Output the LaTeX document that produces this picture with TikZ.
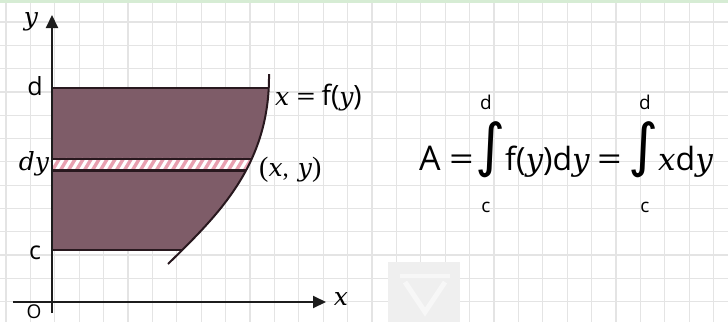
\documentclass[tikz,border=0pt]{standalone}
\usepackage{fontspec}
\usepackage{graphicx}
\setmainfont{Liberation Serif}
\newfontfamily\sansf{Open Sans}
\newfontfamily\djv{DejaVu Sans}
\newfontfamily\itf{DejaVu Serif}
\usetikzlibrary{arrows.meta}
\definecolor{regionfill}{RGB}{126,92,104}
\definecolor{gridc}{RGB}{228,228,228}
\definecolor{edgec}{RGB}{40,24,30}
\definecolor{stripec}{RGB}{232,160,176}
\definecolor{axisc}{RGB}{28,28,28}
\definecolor{topgreen}{RGB}{214,236,212}
\definecolor{wmark}{RGB}{239,239,239}
\definecolor{wmarklogo}{RGB}{247,247,247}
\tikzset{
  gridline/.style={gridc, line width=1.2pt},
  axisline/.style={axisc, line width=2pt, -{Triangle[length=13pt,width=12pt]}},
  edgeline/.style={edgec, line width=2pt},
  itlabel/.style={font=\fontsize{25}{25}\selectfont\itf\itshape, inner sep=0pt},
  sflabel/.style={font=\fontsize{25}{25}\selectfont\sansf, inner sep=0pt},
  limlabel/.style={font=\fontsize{19}{19}\selectfont\sansf, inner sep=0pt},
  formula/.style={font=\fontsize{32}{32}\selectfont\sansf, inner sep=0pt, anchor=base west},
  intsign/.style={font=\fontsize{58}{58}\selectfont\djv, inner sep=0pt},
}
\newcommand{\itv}[1]{{\fontsize{31}{31}\selectfont\itf\itshape #1}}
\newcommand{\itl}[1]{{\itf\itshape #1}}
\newcommand{\wideeq}{\scalebox{1.35}[1]{=}}
\begin{document}
\begin{tikzpicture}[x=1pt,y=-1pt]
\useasboundingbox (0,0) rectangle (728,322);
\fill[white] (0,0) rectangle (728,322);
% background grid
\foreach \i in {0,...,29} \draw[gridline] ({6+\i*24.4},0) -- ++(0,322);
\foreach \j in {0,...,14} \draw[gridline] (0,{-1.3+\j*23.3}) -- ++(728,0);
\fill[topgreen] (0,0) rectangle (728,2.5);
% watermark
\fill[wmark] (388,262) rectangle (460,322);
\draw[wmarklogo, line width=5pt] (405,282) -- (425,312) -- (445,282);
\draw[wmarklogo, line width=4pt] (400,276) -- (450,276);
% region
\begin{scope}
  \clip (52,88) rectangle (400,250);
  \clip (40,264) -- (168,264) .. controls (218,215) and (270,165) .. (269,74) -- (40,74) -- cycle;
  \fill[regionfill] (0,0) rectangle (400,300);
  \fill[white] (40,159) rectangle (300,170.5);
  \foreach \s in {0,...,36} \draw[stripec, line width=3.4pt] ({36+\s*8},171) -- ++(7.5,-12.5);
  \draw[edgec, line width=2.2pt] (40,159) -- (300,159);
  \draw[edgec, line width=2.2pt] (40,170.5) -- (300,170.5);
\end{scope}
\begin{scope}
  \clip (40,264) -- (168,264) .. controls (218,215) and (270,165) .. (269,74) -- (40,74) -- cycle;
  \draw[edgeline] (52,88) -- (300,88);
  \draw[edgeline] (52,250) -- (300,250);
\end{scope}
\draw[edgeline] (168,264) .. controls (218,215) and (270,165) .. (269,74);
% axes
\coordinate (ybot) at (52,313);
\coordinate (ytop) at (52,15);
\coordinate (xleft) at (13,302);
\coordinate (xright) at (326,302);
\draw[axisline] (ybot) -- (ytop);
\draw[axisline] (xleft) -- (xright);
% axis labels
\node[itlabel] (ylab) at (31,22) {y};
\node[itlabel] (xlab) at (341,299) {x};
\node[font=\fontsize{19}{19}\selectfont\sansf, inner sep=0pt, anchor=north] (olab) at (34,305) {O};
\node[sflabel] (dlab) at (35,86) {d};
\node[sflabel] (clab) at (35,253) {c};
\node[itlabel] (dylab) at (34,164) {dy};
\node[font=\fontsize{25}{25}\selectfont, inner sep=0pt, anchor=west] (fylab) at (275,98) {\itl{x}\hspace{7pt}{\sansf\wideeq}\hspace{6pt}{\fontsize{28}{28}\selectfont\sansf f(}\itl{y}{\fontsize{28}{28}\selectfont\sansf )}};
\node[font=\fontsize{25}{25}\selectfont, inner sep=0pt, anchor=west] (xylab) at (259,170) {{\fontsize{28}{28}\selectfont(}\itl{x},\hspace{9pt}\itl{y}{\fontsize{28}{28}\selectfont)}};
% formula
\node[formula, font=\fontsize{34}{34}\selectfont\sansf] (A) at (419,170) {A};
\node[formula] (eq1) at (449,170) {\wideeq};
\node[intsign] (int1) at (491,150) {∫};
\node[limlabel] (d1) at (486,102) {d};
\node[limlabel] (c1) at (486,207) {c};
\node[formula] (fy) at (505,170) {f(\itv{y})d\itv{y}};
\node[formula] (eq2) at (597,170) {\wideeq};
\node[intsign] (int2) at (644,150) {∫};
\node[limlabel] (d2) at (645,102) {d};
\node[limlabel] (c2) at (645,207) {c};
\node[formula] (xdy) at (658,170) {\itv{x}d\itv{y}};
\end{tikzpicture}
\end{document}
